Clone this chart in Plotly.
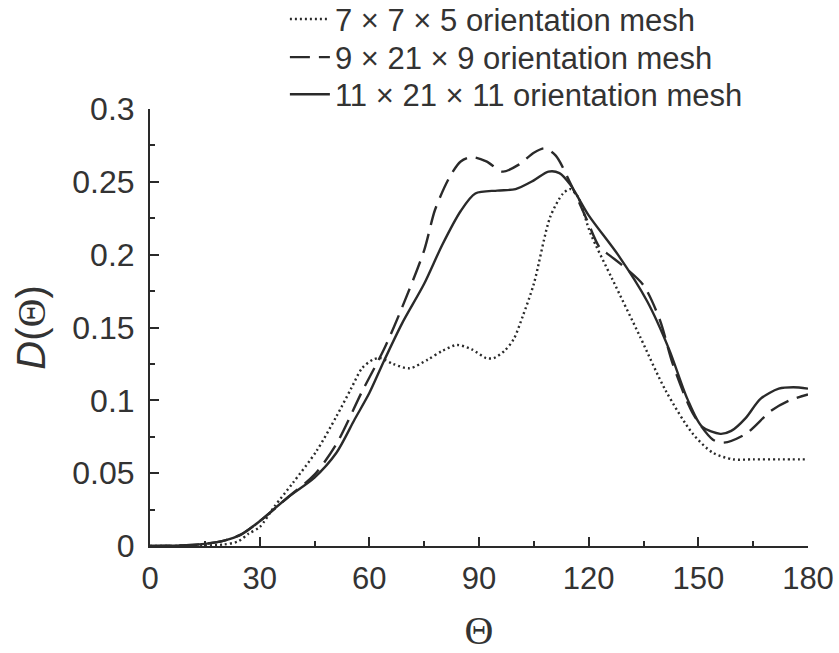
import plotly.graph_objects as go

# Misorientation distribution D(Θ) for three orientation-mesh resolutions
theta_7x7x5 = [0, 15, 20, 24, 27, 30, 34, 39, 45.5, 51, 55, 58, 61, 63, 66.5, 71, 76, 80, 84, 88,
               92, 94, 97, 99.5, 102, 105, 109.5, 113, 115, 117, 120.5, 126.5, 134, 141, 148.5,
               154, 159.5, 165, 172, 180]
d_7x7x5 = [0, 0.0003, 0.001, 0.003, 0.0085, 0.013, 0.027, 0.043, 0.065, 0.089, 0.108, 0.122,
           0.128, 0.129, 0.125, 0.122, 0.128, 0.134, 0.138, 0.135, 0.129, 0.129, 0.134, 0.142,
           0.158, 0.180, 0.226, 0.242, 0.245, 0.240, 0.2146, 0.183, 0.144, 0.107, 0.077, 0.064,
           0.0595, 0.0595, 0.0595, 0.0595]

theta_9x21x9 = [0, 10, 15, 20, 25, 30, 38, 45, 51, 58, 64, 69, 75, 78, 82, 85, 88, 92, 96.5,
                101, 105, 108, 111, 115, 119.5, 123, 126, 130, 135, 139.5, 143, 148.5, 154,
                157, 163, 170, 175, 180]
d_9x21x9 = [0, 0.0005, 0.0015, 0.0035, 0.008, 0.017, 0.034, 0.049, 0.070, 0.106, 0.135, 0.164,
            0.203, 0.231, 0.2535, 0.264, 0.267, 0.264, 0.257, 0.262, 0.270, 0.273, 0.268, 0.249,
            0.224, 0.205, 0.199, 0.191, 0.179, 0.155, 0.125, 0.091, 0.073, 0.071, 0.077, 0.093,
            0.100, 0.104]

theta_11x21x11 = [0, 10, 15, 20, 25, 30, 38, 45, 51, 56, 60, 64, 69, 75, 80, 85, 89, 95, 100,
                  105, 109, 112, 115, 120, 128, 136, 142, 147, 151, 156, 159, 163, 167, 172,
                  176, 180]
d_11x21x11 = [0, 0.0005, 0.0015, 0.0035, 0.008, 0.017, 0.034, 0.047, 0.064, 0.087, 0.105, 0.127,
              0.153, 0.180, 0.207, 0.230, 0.242, 0.244, 0.245, 0.251, 0.257, 0.256, 0.248, 0.227,
              0.200, 0.168, 0.135, 0.101, 0.082, 0.077, 0.079, 0.088, 0.101, 0.108, 0.109, 0.108]

series_names = ["7 × 7 × 5 orientation mesh",
                "9 × 21 × 9 orientation mesh",
                "11 × 21 × 11 orientation mesh"]

x_ticks = [0, 30, 60, 90, 120, 150, 180]
y_ticks = [0, 0.05, 0.1, 0.15, 0.2, 0.25, 0.3]
y_tick_text = ["0", "0.05", "0.1", "0.15", "0.2", "0.25", "0.3"]

INK = "#2a2a2a"
TEXT = "#333333"
FONT = "Liberation Sans, Arial, sans-serif"
SERIF = "Liberation Serif, Times New Roman, serif"

# one single-entry legend per series, stacked as rows above the plot
legend_ids = ["legend", "legend2", "legend3"]
legend_rows_y = [1.205, 1.118, 1.033]

fig = go.Figure()
styles = [("2px,3px", 2.4), ("20px,9px", 2.4), ("solid", 2.4)]
for i, (xs, ys) in enumerate([(theta_7x7x5, d_7x7x5),
                              (theta_9x21x9, d_9x21x9),
                              (theta_11x21x11, d_11x21x11)]):
    dash, width = styles[i]
    fig.add_trace(go.Scatter(
        x=xs, y=ys, mode="lines", name=series_names[i], legend=legend_ids[i],
        showlegend=True,
        line=dict(color=INK, width=width, dash=dash, shape="spline", smoothing=0.8),
    ))

axis_common = dict(
    showline=True, linecolor=INK, linewidth=2, ticks="inside", ticklen=9, tickwidth=1.5,
    tickcolor=INK, showgrid=False, zeroline=False, mirror=False,
)

fig.update_xaxes(
    range=[0, 180], tickvals=x_ticks, ticklabelstandoff=4,
    tickfont=dict(family=FONT, size=31, color=TEXT),
    minor=dict(dtick=15, tick0=0, ticks="inside", ticklen=5, tickwidth=1.5, tickcolor=INK),
    title=dict(text="Θ", font=dict(family=SERIF, size=40, color=TEXT), standoff=28),
    **axis_common,
)
fig.update_yaxes(
    range=[0, 0.3], tickvals=y_ticks, ticktext=y_tick_text, ticklabelstandoff=7,
    tickfont=dict(family=FONT, size=32, color=TEXT),
    minor=dict(dtick=0.025, tick0=0, ticks="inside", ticklen=5, tickwidth=1.5, tickcolor=INK),
    title=dict(text="<i>D</i>(<span style='font-family:Liberation Serif'>Θ</span>)",
               font=dict(family=FONT, size=40, color=TEXT), standoff=14),
    **axis_common,
)

legend_style = dict(
    x=0.205, xanchor="left", yanchor="middle",
    font=dict(family=FONT, size=31, color=TEXT),
    itemwidth=40, bgcolor="rgba(0,0,0,0)",
)

fig.update_layout(
    width=839, height=653,
    showlegend=True,
    margin=dict(l=150, r=31, t=109, b=107, autoexpand=False),
    paper_bgcolor="white", plot_bgcolor="white",
    legend=dict(y=legend_rows_y[0], **legend_style),
    legend2=dict(y=legend_rows_y[1], **legend_style),
    legend3=dict(y=legend_rows_y[2], **legend_style),
)

fig.write_html("out.html")
